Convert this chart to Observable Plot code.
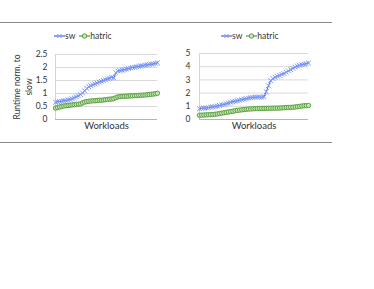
<!DOCTYPE html>
<html><head><meta charset="utf-8">
<script src="https://cdn.jsdelivr.net/npm/d3@7"></script>
<script src="https://cdn.jsdelivr.net/npm/@observablehq/plot@0.6"></script>
<style>
body{margin:0;background:#fff;font-family:Lato,"Open Sans",sans-serif;}
#c{position:relative;width:374px;height:289px;overflow:hidden;background:#fff;}
.hr{position:absolute;left:0;width:332px;height:0;border-top:1px solid #8a8a8a;}
.panel{position:absolute;top:0;}
.legend{position:absolute;font-size:8.5px;color:#333;display:flex;align-items:center;white-space:nowrap;}
.legend svg{display:block;}
.legend span{margin-right:4px;}
.ytitle{position:absolute;width:90px;left:-22.5px;top:75px;height:24px;text-align:center;font-size:8.5px;line-height:12px;color:#333;transform:rotate(-90deg);transform-origin:50% 50%;white-space:pre;}
</style>
</head><body>
<div id="c"></div>
<script>
const seriesNames = ["sw", "hatric"];
const colors = {sw: "#3f63ee", hatric: "#4f9a33"};
const yTitle = "Runtime norm. to\nslow";
const xTitle = "Workloads";
const leftTicks = [0, 0.5, 1, 1.5, 2, 2.5];
const rightTicks = [0, 1, 2, 3, 4, 5];

const leftSw = [0.66,0.68,0.69,0.70,0.72,0.73,0.75,0.77,0.80,0.83,0.87,0.91,0.96,1.02,1.10,1.20,1.26,1.30,1.34,1.37,1.40,1.44,1.47,1.50,1.53,1.56,1.59,1.62,1.60,1.80,1.86,1.88,1.90,1.92,1.94,1.96,1.98,2.00,2.01,2.03,2.04,2.06,2.07,2.09,2.10,2.12,2.13,2.14,2.16,2.18];
const leftHatric = [0.44,0.46,0.48,0.50,0.52,0.53,0.54,0.55,0.56,0.57,0.58,0.59,0.60,0.64,0.67,0.69,0.70,0.71,0.72,0.72,0.73,0.74,0.74,0.75,0.76,0.77,0.78,0.79,0.80,0.84,0.87,0.88,0.89,0.89,0.90,0.90,0.91,0.91,0.92,0.92,0.93,0.93,0.94,0.94,0.95,0.96,0.97,0.98,0.99,1.01];
const rightSw = [0.82,0.84,0.86,0.88,0.90,0.93,0.96,0.99,1.02,1.06,1.10,1.14,1.19,1.24,1.30,1.34,1.38,1.42,1.46,1.50,1.54,1.58,1.62,1.65,1.67,1.68,1.70,1.70,1.68,1.72,2.10,2.55,2.95,3.10,3.20,3.28,3.35,3.42,3.48,3.58,3.68,3.78,3.88,3.97,4.05,4.10,4.15,4.19,4.23,4.28];
const rightHatric = [0.32,0.33,0.34,0.35,0.36,0.37,0.38,0.40,0.42,0.45,0.48,0.51,0.54,0.57,0.60,0.63,0.66,0.69,0.71,0.73,0.75,0.77,0.79,0.80,0.81,0.82,0.83,0.83,0.84,0.84,0.85,0.85,0.85,0.86,0.86,0.86,0.87,0.88,0.89,0.90,0.91,0.92,0.93,0.95,0.97,0.99,1.02,1.04,1.05,1.06];

function rows(sw, hatric) {
  const out = [];
  sw.forEach((v, i) => out.push({i, v, s: "sw"}));
  hatric.forEach((v, i) => out.push({i, v, s: "hatric"}));
  return out;
}

function panel({sw, hatric, ticks, width, mL, mR, mT, mB, pad}) {
  const data = rows(sw, hatric);
  const swd = data.filter(d => d.s === "sw");
  const htd = data.filter(d => d.s === "hatric");
  const marks = [
    Plot.gridY(ticks.filter(t => t > 0), {stroke: "#d9d9d9", strokeOpacity: 1}),
    Plot.frame({anchor: "left", stroke: "#d4d4d4"}),
    Plot.ruleY([0], {stroke: "#b5b5b5"}),
    Plot.line(htd, {x: "i", y: "v", stroke: colors.hatric, strokeWidth: 1}),
    Plot.dot(htd, {x: "i", y: "v", r: 2.2, stroke: colors.hatric, strokeWidth: 0.9, fill: "#c9e6b8"}),
    Plot.line(swd, {x: "i", y: "v", stroke: colors.sw, strokeWidth: 1}),
    Plot.dot(swd, {x: "i", y: "v", r: 2.3, symbol: "times", stroke: "#7d98f6", strokeWidth: 1}),
    Plot.text([xTitle], {frameAnchor: "bottom", dy: 9, fontSize: 9.5, fill: "#333"})
  ];
  return Plot.plot({
    width, height: 150,
    marginLeft: mL, marginRight: mR, marginTop: mT, marginBottom: mB,
    style: {fontFamily: "Lato, 'Open Sans', sans-serif", fontSize: "8.5px", color: "#333", background: "transparent", overflow: "visible"},
    x: {domain: [0, sw.length - 1], axis: null},
    y: {domain: [0, ticks[ticks.length - 1]], ticks, tickSize: 0, tickPadding: pad, label: null, tickFormat: d => String(d)},
    marks
  });
}

const c = document.getElementById("c");
const hr1 = document.createElement("div"); hr1.className = "hr"; hr1.style.top = "22px"; c.appendChild(hr1);
const hr2 = document.createElement("div"); hr2.className = "hr"; hr2.style.top = "142px"; c.appendChild(hr2);

const p1 = panel({sw: leftSw, hatric: leftHatric, ticks: leftTicks, width: 180, mL: 55, mR: 23, mT: 54, mB: 31, pad: 8});
p1.classList.add("panel"); p1.style.left = "0px"; c.appendChild(p1);
const p2 = panel({sw: rightSw, hatric: rightHatric, ticks: rightTicks, width: 194, mL: 19, mR: 66, mT: 53, mB: 31, pad: 9});
p2.classList.add("panel"); p2.style.left = "180px"; c.appendChild(p2);

const yt = document.createElement("div"); yt.className = "ytitle"; yt.textContent = yTitle; c.appendChild(yt);

function legend(left, top) {
  const d = document.createElement("div");
  d.className = "legend"; d.style.left = left + "px"; d.style.top = top + "px";
  seriesNames.forEach(s => {
    const ns = "http://www.w3.org/2000/svg";
    const svg = document.createElementNS(ns, "svg");
    svg.setAttribute("width", 11); svg.setAttribute("height", 8);
    const ln = document.createElementNS(ns, "line");
    ln.setAttribute("x1", 0); ln.setAttribute("x2", 11); ln.setAttribute("y1", 4); ln.setAttribute("y2", 4);
    ln.setAttribute("stroke", colors[s]); ln.setAttribute("stroke-width", 1.2);
    svg.appendChild(ln);
    if (s === "sw") {
      const p = document.createElementNS(ns, "path");
      p.setAttribute("d", "M3.5,2L7.5,6M7.5,2L3.5,6");
      p.setAttribute("stroke", "#7d98f6"); p.setAttribute("stroke-width", 1);
      svg.appendChild(p);
    } else {
      const ci = document.createElementNS(ns, "circle");
      ci.setAttribute("cx", 5.5); ci.setAttribute("cy", 4); ci.setAttribute("r", 2.2);
      ci.setAttribute("stroke", colors[s]); ci.setAttribute("fill", "#c9e6b8"); ci.setAttribute("stroke-width", 0.9);
      svg.appendChild(ci);
    }
    d.appendChild(svg);
    const t = document.createElement("span"); t.textContent = s; d.appendChild(t);
  });
  c.appendChild(d);
}
legend(54, 31);
legend(221, 31);
</script>
</body></html>
